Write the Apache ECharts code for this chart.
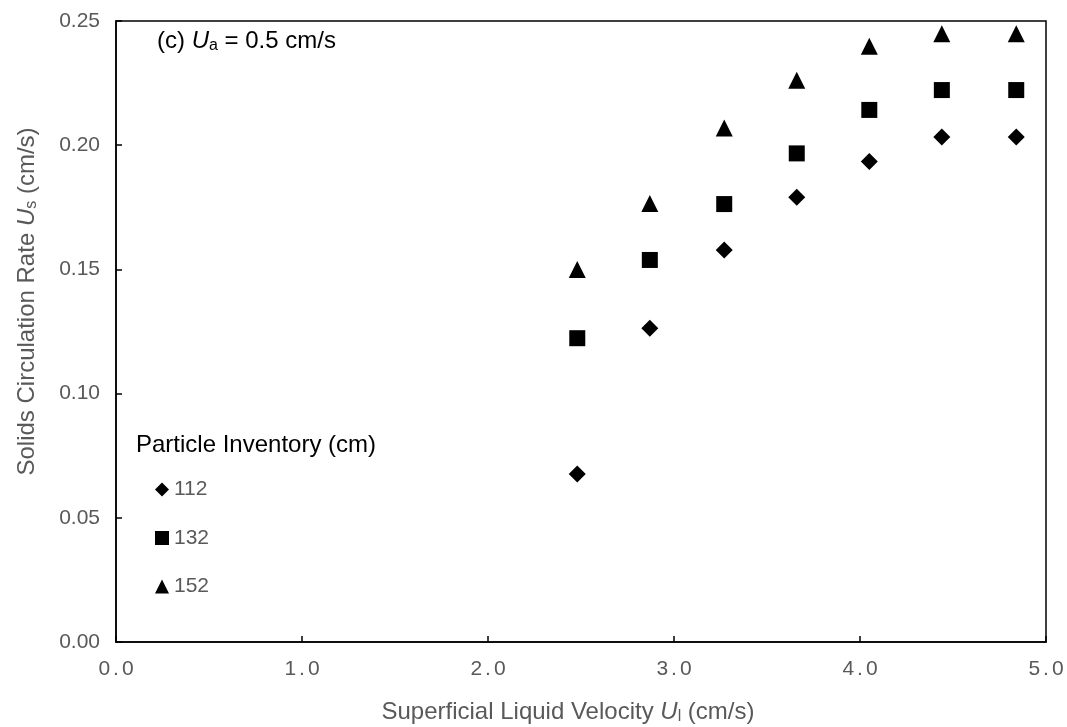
<!DOCTYPE html>
<html>
<head>
<meta charset="utf-8">
<script src="https://cdn.jsdelivr.net/npm/echarts@6/dist/echarts.min.js"></script>
<style>html,body{margin:0;padding:0;background:#fff;}#c{width:1067px;height:727px;}</style>
</head>
<body>
<div id="c"></div>
<script>
var xValues = [2.48, 2.87, 3.27, 3.66, 4.05, 4.44, 4.84];
var inv112 = [0.0676, 0.1263, 0.1578, 0.1790, 0.1934, 0.2033, 0.2033];
var inv132 = [0.1223, 0.1538, 0.1763, 0.1967, 0.2142, 0.2222, 0.2222];
var inv152 = [0.1500, 0.1765, 0.2069, 0.2261, 0.2398, 0.2449, 0.2449];
var seriesNames = ['112', '132', '152'];
var xTicks = [0, 1, 2, 3, 4, 5];
var yTicks = [0, 0.05, 0.10, 0.15, 0.20, 0.25];

function pairs(ys) { return xValues.map(function (x, i) { return [x, ys[i]]; }); }

var FONT = 'Liberation Sans, Arial, sans-serif';
var GRAY = '#595959';
var chart = echarts.init(document.getElementById('c'), null, { renderer: 'canvas' });

var nameRich = function (color, size, sub, drop) {
  return {
    n: { fontFamily: FONT, fontSize: size, color: color, fontWeight: 'normal' },
    i: { fontFamily: FONT, fontSize: size, color: color, fontStyle: 'italic', fontWeight: 'normal' },
    s: { fontFamily: FONT, fontSize: sub, color: color, fontWeight: 'normal', verticalAlign: 'bottom', padding: [drop, 0, 0, 0] }
  };
};

chart.setOption({
  animation: false,
  backgroundColor: '#fff',
  title: [
    {
      text: '{n|(c) }{i|U}{s|a}{n| = 0.5 cm/s}',
      left: 157, top: 28, padding: 0,
      textStyle: { fontWeight: 'normal', rich: nameRich('#000', 24, 16, 10) }
    },
    {
      text: 'Particle Inventory (cm)',
      left: 136, top: 433, padding: 0,
      textStyle: { fontFamily: FONT, fontSize: 24, fontWeight: 'normal', color: '#000' }
    }
  ],
  legend: {
    data: seriesNames,
    orient: 'vertical',
    left: 155, top: 479,
    padding: 0,
    itemWidth: 14, itemHeight: 14,
    itemGap: 27.5,
    textStyle: { fontFamily: FONT, fontSize: 21, color: GRAY, lineHeight: 21 }
  },
  grid: {
    left: 116, right: 21, top: 21, bottom: 85,
    outerBoundsMode: 'none', containLabel: false,
    show: true, borderColor: '#000', borderWidth: 1.5
  },
  xAxis: {
    type: 'value', min: xTicks[0], max: xTicks[xTicks.length - 1], interval: 1,
    name: '{n|Superficial Liquid Velocity }{i|U}{s|l}{n| (cm/s)}',
    nameLocation: 'middle', nameGap: 57,
    nameTextStyle: { padding: [0, 26, 0, 0], rich: nameRich(GRAY, 24, 16, 10) },
    axisLine: { lineStyle: { color: '#000', width: 1.5 } },
    axisTick: { show: true, inside: true, length: 6, lineStyle: { color: '#000', width: 1.5 } },
    axisLabel: {
      margin: 17,
      formatter: function (v) {
        var s = v.toFixed(1).split('.');
        return '{d|' + s[0] + '}{p|.}{d|' + s[1] + '}';
      },
      rich: {
        d: { fontFamily: FONT, fontSize: 21, color: GRAY },
        p: { fontFamily: FONT, fontSize: 21, color: GRAY, padding: [0, 3, 0, 3] }
      }
    },
    splitLine: { show: false }
  },
  yAxis: {
    type: 'value', min: yTicks[0], max: yTicks[yTicks.length - 1], interval: 0.05,
    name: '{n|Solids Circulation Rate }{i|U}{s|s}{n| (cm/s)}',
    nameLocation: 'middle', nameGap: 76,
    nameTextStyle: { padding: [0, 0, 0, 60], rich: nameRich(GRAY, 24, 16, 10) },
    axisLine: { lineStyle: { color: '#000', width: 1.5 } },
    axisTick: { show: true, inside: true, length: 6, lineStyle: { color: '#000', width: 1.5 } },
    axisLabel: { fontFamily: FONT, fontSize: 21, color: GRAY, margin: 16,
      formatter: function (v) { return v.toFixed(2); } },
    splitLine: { show: false }
  },
  series: [
    { name: seriesNames[0], type: 'scatter', symbol: 'diamond', symbolSize: 17,
      itemStyle: { color: '#000', opacity: 1 }, data: pairs(inv112) },
    { name: seriesNames[1], type: 'scatter', symbol: 'rect', symbolSize: 16,
      itemStyle: { color: '#000', opacity: 1 }, data: pairs(inv132) },
    { name: seriesNames[2], type: 'scatter', symbol: 'triangle', symbolSize: 17,
      itemStyle: { color: '#000', opacity: 1 }, data: pairs(inv152) }
  ]
});
</script>
</body>
</html>
